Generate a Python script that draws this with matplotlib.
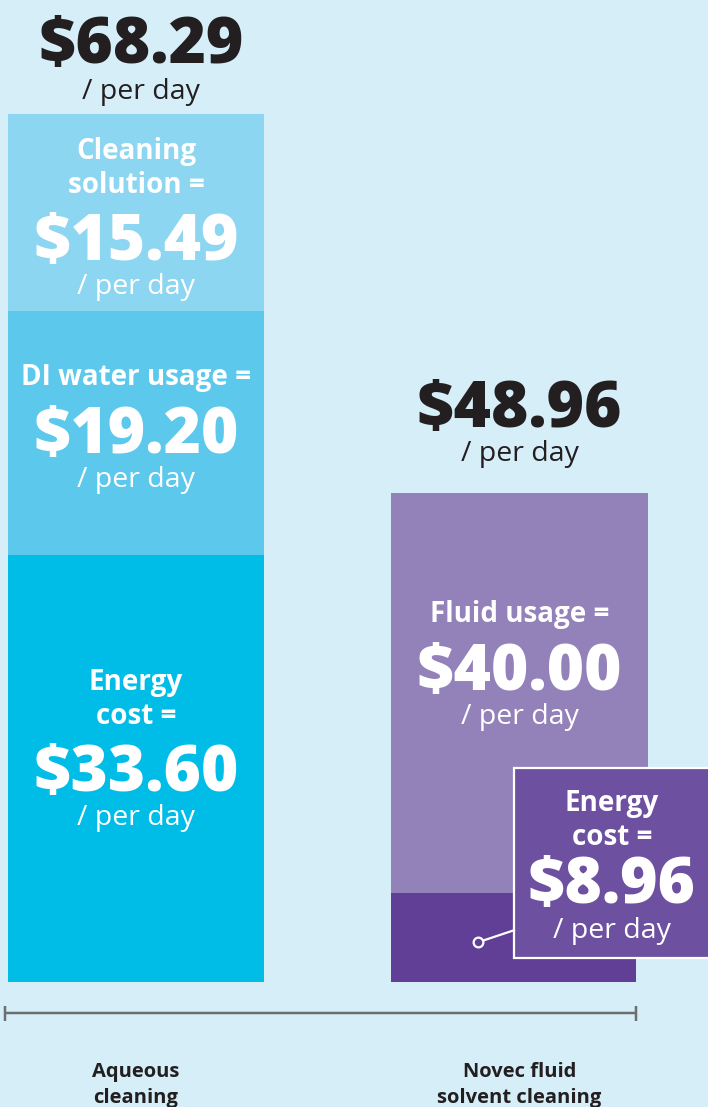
import matplotlib
matplotlib.use("Agg")
import matplotlib.pyplot as plt
from matplotlib.patches import Rectangle
from matplotlib.lines import Line2D
from matplotlib.transforms import IdentityTransform

# ---- data -------------------------------------------------------------
categories = ["Aqueous\ncleaning", "Novec fluid\nsolvent cleaning"]

aqueous_labels = ["Energy\ncost =", "DI water usage =", "Cleaning\nsolution ="]
aqueous_values = [33.60, 19.20, 15.49]
aqueous_total = 68.29

novec_labels = ["Energy\ncost =", "Fluid usage ="]
novec_values = [8.96, 40.00]
novec_total = 48.96

# ---- style --------------------------------------------------------------
BG = "#d6eef8"
DARK = "#231f20"
AXIS_GREY = "#6d6e71"
aqueous_colors = ["#00bde8", "#5bc8ec", "#8dd6f1"]
novec_colors = ["#613f96", "#9381ba"]
CALLOUT = "#6d51a0"

W, H = 708, 1107
BASE_PX = 982            # baseline, px from top
TOP_A_PX, TOP_N_PX = 114, 493
CENTER_A_PX, CENTER_N_PX = 136, 519.5
BAR_W_PX = 256
NOVEC_W_PX, NOVEC_ENERGY_W_PX = 257, 245

plt.rcParams["font.family"] = ["Open Sans", "DejaVu Sans"]

VALUE_PT = 46
VALUE_WT = 800
LABEL_PT = 20
PERDAY_PT = 20.5
CAT_PT = 14.5


def px(v):
    return v * 0.72


def put(ax, x, y, dx, dy, s, size, weight="bold", color="white", z=3):
    # dx, dy in pixels, dy measured downwards; +4 corrects for va=center
    ax.annotate(s, (x, y), xytext=(dx, -(dy + 4)), textcoords="offset pixels",
                ha="center", va="center", fontsize=size,
                fontweight=weight, color=color, zorder=z)


def put_value(ax, x, y, dx, dy, value, color="white", z=3):
    put(ax, x, y, dx, dy + 2, f"${value:.2f}", VALUE_PT, weight=VALUE_WT,
        color=color, z=z)


def put_block(ax, x, y, label, value, value_shift, color="white"):
    put_value(ax, x, y, 0, value_shift, value, color=color)
    lines = label.split("\n")
    for i, line in enumerate(reversed(lines)):
        put(ax, x, y, 0, value_shift - 56 - 34 * i, line, LABEL_PT, color=color)
    put(ax, x, y, 0, value_shift + 46, "/ per day", PERDAY_PT,
        weight="normal", color=color)


def main():
    fig = plt.figure(figsize=(W / 100, H / 100), dpi=100, facecolor=BG)
    ax = fig.add_axes([0, 0, 1, 1])
    ax.set_facecolor(BG)
    ax2 = ax.twinx()

    unit_x = CENTER_N_PX - CENTER_A_PX
    ax.set_xlim(-CENTER_A_PX / unit_x, (W - CENTER_A_PX) / unit_x)

    # the original graphic is not drawn to one scale, so each bar gets its own
    scale_a = (BASE_PX - TOP_A_PX) / aqueous_total
    scale_n = (BASE_PX - TOP_N_PX) / novec_total
    ax.set_ylim(-(H - BASE_PX) / scale_a, BASE_PX / scale_a)
    ax2.set_ylim(-(H - BASE_PX) / scale_n, BASE_PX / scale_n)
    for a in (ax, ax2):
        a.axis("off")

    # aqueous stack
    bar_w = BAR_W_PX / unit_x
    bottom = 0
    shifts = [0, -3, 25]
    for val, col, lab, sh in zip(aqueous_values, aqueous_colors,
                                 aqueous_labels, shifts):
        ax.bar(0, val, bottom=bottom, width=bar_w, color=col, linewidth=0)
        put_block(ax, 0, bottom + val / 2, lab, val, sh)
        bottom += val
    put_value(ax, 0, aqueous_total, 5, -74, aqueous_total, color=DARK)
    put(ax, 0, aqueous_total, 5, -26, "/ per day", PERDAY_PT,
        weight="normal", color=DARK)

    # novec stack
    left = 1 - (NOVEC_W_PX / 2) / unit_x
    ax2.bar(left, novec_values[0], width=NOVEC_ENERGY_W_PX / unit_x,
            align="edge", color=novec_colors[0], linewidth=0)
    ax2.bar(left, novec_values[1], bottom=novec_values[0],
            width=NOVEC_W_PX / unit_x, align="edge",
            color=novec_colors[1], linewidth=0)
    put_block(ax2, 1, novec_values[0] + novec_values[1] / 2,
              novec_labels[1], novec_values[1], -26)
    put_value(ax2, 1, novec_total, 0, -89, novec_total, color=DARK)
    put(ax2, 1, novec_total, 0, -43, "/ per day", PERDAY_PT,
        weight="normal", color=DARK)

    # callout for the small energy segment
    fig.canvas.draw()
    cx, cy = ax2.transData.transform((1, novec_values[0] / 2))
    ident = IdentityTransform()
    box = Rectangle((cx - 5.5, cy - 21), 200, 190, transform=ident,
                    facecolor=CALLOUT, edgecolor="white", linewidth=1.6,
                    zorder=5, clip_on=False)
    ax2.add_artist(box)
    ax2.add_artist(Line2D([cx - 41.5, cx - 5.5], [cy - 5, cy + 7],
                          transform=ident, color="white", linewidth=1.6,
                          zorder=6, clip_on=False))
    ax2.add_artist(Line2D([cx - 41.5], [cy - 5], marker="o", markersize=7,
                          markerfacecolor=novec_colors[0],
                          markeredgecolor="white", markeredgewidth=1.6,
                          transform=ident, zorder=7, clip_on=False))
    seg_mid = novec_values[0] / 2
    put(ax2, 1, seg_mid, 92.5, -138, "Energy", LABEL_PT, z=8)
    put(ax2, 1, seg_mid, 92.5, -104, "cost =", LABEL_PT, z=8)
    put_value(ax2, 1, seg_mid, 92.5, -57, novec_values[0], z=8)
    put(ax2, 1, seg_mid, 92.5, -10, "/ per day", PERDAY_PT, weight="normal",
        z=8)

    # baseline with end caps
    y_line = -31 / scale_a
    x0 = -bar_w / 2 - 3 / unit_x
    x1 = left + NOVEC_ENERGY_W_PX / unit_x
    ax.plot([x0, x1], [y_line, y_line], color=AXIS_GREY, linewidth=px(2.5),
            solid_capstyle="butt")
    ax.plot([x0, x1], [y_line, y_line], linestyle="none", marker="|",
            markersize=px(15), markeredgewidth=px(2.5), color=AXIS_GREY)

    for i, cat in enumerate(categories):
        ax.annotate(cat, (i, 0), xytext=(0, -80), textcoords="offset pixels",
                    ha="center", va="top", fontsize=CAT_PT, fontweight="bold",
                    color=DARK, linespacing=1.4)

    fig.savefig("out.png", dpi=100, facecolor=BG)


if __name__ == "__main__":
    main()
